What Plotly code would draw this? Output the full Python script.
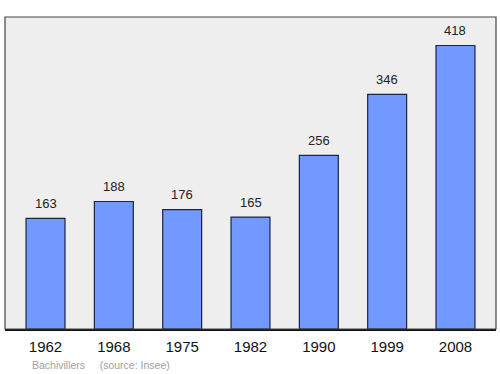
import plotly.graph_objects as go

years = ["1962", "1968", "1975", "1982", "1990", "1999", "2008"]
population = [163, 188, 176, 165, 256, 346, 418]

FONT = "Liberation Sans, Arial, DejaVu Sans"

fig = go.Figure()
fig.add_trace(go.Bar(
    x=list(range(len(years))), y=population, width=0.57,
    marker=dict(color="#7299ff", line=dict(color="#1b2440", width=1.2)),
    hoverinfo="skip",
))
for i, v in enumerate(population):
    fig.add_annotation(x=i, y=v, text=str(v), showarrow=False, yshift=15,
                       font=dict(family=FONT, size=13, color="#222"))

fig.add_annotation(xref="paper", yref="paper", x=0.05, y=-0.115, xanchor="left", yanchor="middle",
                   text="Bachivillers&nbsp;&nbsp;&nbsp;&nbsp;&nbsp;(source: Insee)", showarrow=False,
                   font=dict(family=FONT, size=10.5, color="#a0a0a0"))

fig.add_shape(type="rect", xref="paper", yref="paper", x0=0, y0=0, x1=1, y1=1,
              line=dict(color="#444", width=1.2), layer="above")

fig.update_layout(
    width=500, height=374,
    margin=dict(l=5, r=4, t=17, b=45),
    paper_bgcolor="white", plot_bgcolor="#eeeeee",
    showlegend=False,
    xaxis=dict(range=[-0.593, 6.593], tickmode="array", tickvals=list(range(len(years))),
               ticktext=years, showgrid=False, zeroline=False,
               ticks="outside", ticklen=3, tickcolor="rgba(0,0,0,0)",
               showline=True, linecolor="#111", linewidth=2,
               tickfont=dict(family=FONT, size=15, color="#111")),
    yaxis=dict(range=[0, 460], showgrid=False, zeroline=False, showticklabels=False, ticks=""),
)
fig.write_html("out.html")
